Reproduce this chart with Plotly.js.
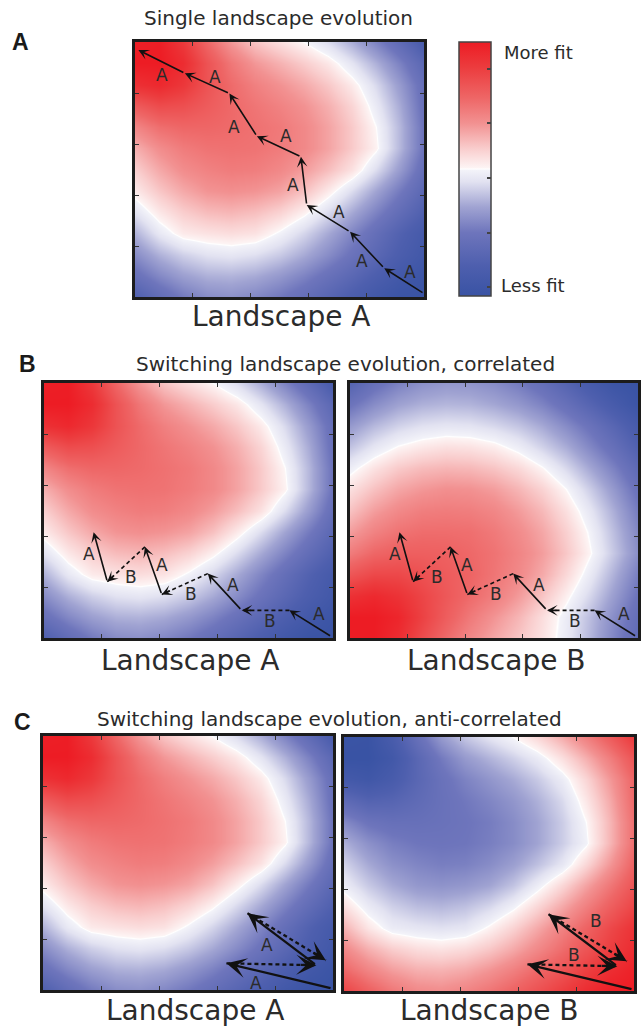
<!DOCTYPE html>
<html>
<head>
<meta charset="utf-8">
<script src="https://cdn.plot.ly/plotly-3.0.1.min.js"></script>
<style>
  html, body { margin: 0; padding: 0; background: #ffffff; }
  #fig { width: 642px; height: 1028px; }
</style>
</head>
<body>
<div id="fig"></div>
<script>
// Grid nodes of the fitness landscapes (row 0 = top edge)
const gridX = [0, 1, 2, 3, 4, 5, 6, 7, 8, 9, 10, 11, 12];
const gridY = [0, 1, 2, 3, 4, 5, 6, 7, 8, 9, 10, 11, 12];

// Fitness values, -1 = least fit, +1 = most fit
const landscapeA = [
  [ 0.98,  0.99,  0.82,  0.56,  0.34,  0.19,  0.09,  0.00, -0.12, -0.27, -0.44, -0.62, -0.82],
  [ 1.00,  1.00,  0.90,  0.67,  0.48,  0.34,  0.25,  0.16,  0.06, -0.09, -0.26, -0.45, -0.66],
  [ 0.87,  0.92,  0.83,  0.67,  0.54,  0.44,  0.36,  0.28,  0.18,  0.05, -0.13, -0.34, -0.57],
  [ 0.62,  0.71,  0.69,  0.62,  0.55,  0.49,  0.43,  0.36,  0.26,  0.13, -0.06, -0.28, -0.55],
  [ 0.41,  0.52,  0.56,  0.56,  0.54,  0.51,  0.47,  0.40,  0.30,  0.17,  0.00, -0.24, -0.52],
  [ 0.26,  0.38,  0.46,  0.50,  0.51,  0.50,  0.46,  0.40,  0.30,  0.17,  0.02, -0.24, -0.52],
  [ 0.15,  0.28,  0.38,  0.43,  0.46,  0.45,  0.40,  0.32,  0.21,  0.08, -0.12, -0.34, -0.58],
  [ 0.05,  0.18,  0.28,  0.35,  0.37,  0.35,  0.30,  0.20,  0.05, -0.12, -0.30, -0.48, -0.66],
  [-0.09,  0.06,  0.16,  0.22,  0.24,  0.21,  0.14,  0.03, -0.12, -0.28, -0.44, -0.60, -0.75],
  [-0.25, -0.07,  0.05,  0.08,  0.10,  0.08, -0.02, -0.14, -0.28, -0.43, -0.58, -0.73, -0.86],
  [-0.40, -0.26, -0.16, -0.10, -0.08, -0.11, -0.18, -0.28, -0.40, -0.53, -0.66, -0.79, -0.90],
  [-0.55, -0.42, -0.32, -0.26, -0.25, -0.28, -0.35, -0.44, -0.55, -0.66, -0.78, -0.89, -0.97],
  [-0.75, -0.60, -0.48, -0.40, -0.38, -0.42, -0.49, -0.58, -0.68, -0.79, -0.90, -0.98, -1.00]
];

const landscapeBCorrelated = [
  [-0.70, -0.55, -0.45, -0.38, -0.35, -0.36, -0.40, -0.47, -0.57, -0.70, -0.84, -0.96, -1.00],
  [-0.52, -0.40, -0.31, -0.26, -0.24, -0.25, -0.29, -0.35, -0.44, -0.56, -0.70, -0.84, -0.97],
  [-0.34, -0.23, -0.15, -0.10, -0.08, -0.09, -0.13, -0.19, -0.28, -0.40, -0.53, -0.68, -0.84],
  [-0.20, -0.08,  0.01,  0.06,  0.09,  0.08,  0.04, -0.04, -0.15, -0.27, -0.42, -0.57, -0.74],
  [-0.04,  0.08,  0.17,  0.22,  0.24,  0.23,  0.19,  0.12,  0.01, -0.13, -0.29, -0.45, -0.63],
  [ 0.09,  0.20,  0.29,  0.34,  0.37,  0.36,  0.32,  0.24,  0.14,  0.00, -0.17, -0.35, -0.54],
  [ 0.20,  0.32,  0.40,  0.45,  0.46,  0.45,  0.41,  0.33,  0.23,  0.09, -0.08, -0.27, -0.47],
  [ 0.32,  0.43,  0.50,  0.53,  0.53,  0.52,  0.47,  0.39,  0.29,  0.15, -0.02, -0.22, -0.42],
  [ 0.46,  0.56,  0.60,  0.60,  0.59,  0.55,  0.50,  0.42,  0.32,  0.18,  0.01, -0.19, -0.39],
  [ 0.65,  0.73,  0.73,  0.68,  0.62,  0.57,  0.49,  0.40,  0.28,  0.12, -0.06, -0.26, -0.46],
  [ 0.87,  0.92,  0.86,  0.75,  0.64,  0.54,  0.45,  0.33,  0.19,  0.03, -0.14, -0.33, -0.52],
  [ 1.00,  1.00,  0.94,  0.77,  0.61,  0.47,  0.35,  0.24,  0.10, -0.05, -0.22, -0.40, -0.58],
  [ 1.00,  1.00,  0.90,  0.71,  0.54,  0.40,  0.29,  0.19,  0.08, -0.06, -0.24, -0.43, -0.62]
];

const landscapeBAnti = [
  [-0.98, -0.99, -0.82, -0.56, -0.34, -0.19, -0.09,  0.00,  0.12,  0.27,  0.44,  0.62,  0.82],
  [-1.00, -1.00, -0.90, -0.67, -0.48, -0.34, -0.25, -0.16, -0.06,  0.09,  0.26,  0.45,  0.66],
  [-0.87, -0.92, -0.83, -0.67, -0.54, -0.44, -0.36, -0.28, -0.18, -0.05,  0.13,  0.34,  0.57],
  [-0.62, -0.71, -0.69, -0.62, -0.55, -0.49, -0.43, -0.36, -0.26, -0.13,  0.06,  0.28,  0.55],
  [-0.41, -0.52, -0.56, -0.56, -0.54, -0.51, -0.47, -0.40, -0.30, -0.17,  0.00,  0.24,  0.52],
  [-0.26, -0.38, -0.46, -0.50, -0.51, -0.50, -0.46, -0.40, -0.30, -0.17, -0.02,  0.24,  0.52],
  [-0.15, -0.28, -0.38, -0.43, -0.46, -0.45, -0.40, -0.32, -0.21, -0.08,  0.12,  0.34,  0.58],
  [-0.05, -0.18, -0.28, -0.35, -0.37, -0.35, -0.30, -0.20, -0.05,  0.12,  0.30,  0.48,  0.66],
  [ 0.09, -0.06, -0.16, -0.22, -0.24, -0.21, -0.14, -0.03,  0.12,  0.28,  0.44,  0.60,  0.75],
  [ 0.25,  0.07, -0.05, -0.08, -0.10, -0.08,  0.02,  0.14,  0.28,  0.43,  0.58,  0.73,  0.86],
  [ 0.40,  0.26,  0.16,  0.10,  0.08,  0.11,  0.18,  0.28,  0.40,  0.53,  0.66,  0.79,  0.90],
  [ 0.55,  0.42,  0.32,  0.26,  0.25,  0.28,  0.35,  0.44,  0.55,  0.66,  0.78,  0.89,  0.97],
  [ 0.75,  0.60,  0.48,  0.40,  0.38,  0.42,  0.49,  0.58,  0.68,  0.79,  0.90,  0.98,  1.00]
];

// Evolutionary trajectories (grid units, y grows downward)
const singlePathX = [12.00, 10.35, 8.93, 7.13, 6.89, 5.06, 3.92, 2.07, 0.14];
const singlePathY = [11.84, 10.65, 8.93, 7.67, 5.40, 4.43, 2.42, 1.47, 0.38];
const singleSteps = ['A', 'A', 'A', 'A', 'A', 'A', 'A', 'A'];
const singleLabelX = [11.43, 9.41, 8.48, 6.57, 6.26, 4.13, 3.33, 1.14];
const singleLabelY = [10.82, 10.29, 7.98, 6.75, 4.43, 3.99, 1.64, 1.55];
const singleLabelText = ['A', 'A', 'A', 'A', 'A', 'A', 'A', 'A'];

const corrPathX = [11.94, 10.19, 8.21, 6.80, 4.89, 4.19, 2.63, 2.06];
const corrPathY = [11.94, 10.70, 10.70, 8.97, 9.95, 7.71, 9.35, 7.02];
const corrSteps = ['A', 'B', 'A', 'B', 'A', 'B', 'A'];
const corrLabelX = [11.40, 9.38, 7.86, 6.09, 4.89, 3.63, 1.86];
const corrLabelY = [10.85, 11.19, 9.51, 9.92, 8.57, 9.11, 8.06];
const corrLabelText = ['A', 'B', 'A', 'B', 'A', 'B', 'A'];

const antiPathX = [11.96, 7.59, 11.31, 8.46, 11.70];
const antiPathY = [11.93, 10.74, 10.83, 8.37, 10.59];
const antiSteps = ['A', 'B', 'A', 'B'];
const antiLabelAX = [8.81, 9.27];
const antiLabelAY = [11.66, 9.87];
const antiLabelAText = ['A', 'A'];
const antiLabelBX = [9.50, 10.41];
const antiLabelBY = [10.31, 8.69];
const antiLabelBText = ['B', 'B'];

// Red-white-blue fitness colormap
const fitnessScale = [
  [0.000, 'rgb(57,83,164)'],
  [0.120, 'rgb(78,95,174)'],
  [0.250, 'rgb(110,117,188)'],
  [0.350, 'rgb(160,163,210)'],
  [0.450, 'rgb(226,226,241)'],
  [0.495, 'rgb(243,243,249)'],
  [0.500, 'rgb(255,255,255)'],
  [0.505, 'rgb(253,244,244)'],
  [0.580, 'rgb(249,205,205)'],
  [0.680, 'rgb(242,145,145)'],
  [0.780, 'rgb(238,102,102)'],
  [0.900, 'rgb(236,60,62)'],
  [1.000, 'rgb(237,28,36)']
];
const colorbarTicks = [-0.93, -0.50, -0.07, 0.36, 0.79];

const W = 642, H = 1028;
const px = v => v / W;
const py = v => 1 - v / H;

// Panel boxes in pixels: left, right, top, bottom
const panels = [
  { id: '',  box: [135, 424, 42, 297],  z: landscapeA },
  { id: '2', box: [44, 333, 383, 638],  z: landscapeA },
  { id: '3', box: [350, 638, 383, 638], z: landscapeBCorrelated },
  { id: '4', box: [43, 333, 736, 990],  z: landscapeA },
  { id: '5', box: [344, 634, 737, 991], z: landscapeBAnti }
];

const data = [];
const layout = {
  width: W, height: H,
  margin: { l: 0, r: 0, t: 0, b: 0 },
  paper_bgcolor: '#ffffff',
  plot_bgcolor: '#ffffff',
  showlegend: false,
  annotations: [],
  font: { family: 'DejaVu Sans, sans-serif', color: '#2b2b2b' }
};

panels.forEach((p, i) => {
  const [l, r, t, b] = p.box;
  const axStyle = {
    range: [0, 12],
    showgrid: false, zeroline: false,
    showline: true, linecolor: '#1c1c1c', linewidth: 2.8, mirror: 'ticks',
    ticks: 'inside', ticklen: 4, tickwidth: 1, tickcolor: '#333333',
    tickmode: 'array', tickvals: [2.4, 4.8, 7.2, 9.6],
    showticklabels: false, fixedrange: true
  };
  layout['xaxis' + p.id] = Object.assign({}, axStyle, {
    domain: [px(l), px(r)], anchor: 'y' + p.id
  });
  layout['yaxis' + p.id] = Object.assign({}, axStyle, {
    domain: [py(b), py(t)], anchor: 'x' + p.id, range: [12, 0]
  });
  const trace = {
    type: 'heatmap', x: gridX, y: gridY, z: p.z,
    xaxis: 'x' + p.id, yaxis: 'y' + p.id,
    colorscale: fitnessScale, zmin: -1, zmax: 1,
    zsmooth: 'best', hoverinfo: 'skip',
    showscale: i === 0
  };
  if (i === 0) {
    trace.colorbar = {
      x: px(459), xanchor: 'left', y: py(42), yanchor: 'top',
      len: 254, lenmode: 'pixels', thickness: 32, thicknessmode: 'pixels',
      xpad: 0, ypad: 0,
      outlinewidth: 1.5, outlinecolor: '#444444',
      ticks: 'inside', ticklen: 4, tickwidth: 2, tickcolor: '#444444',
      tickmode: 'array', tickvals: colorbarTicks, showticklabels: false
    };
  }
  data.push(trace);
});

// Draw a trajectory: solid arrows for A-steps, dashed arrows for B-steps
function drawPath(id, xs, ys, steps, head) {
  const dashX = [], dashY = [];
  steps.forEach((s, k) => {
    const x0 = xs[k], y0 = ys[k], x1 = xs[k + 1], y1 = ys[k + 1];
    const base = {
      xref: 'x' + id, yref: 'y' + id, axref: 'x' + id, ayref: 'y' + id,
      x: x1, y: y1, text: '', showarrow: true,
      arrowhead: 3, arrowsize: head.size, arrowwidth: head.width,
      arrowcolor: '#111111', standoff: 0, startstandoff: 0
    };
    if (s === 'A') {
      layout.annotations.push(Object.assign(base, { ax: x0, ay: y0 }));
    } else {
      dashX.push(x0, x1, null);
      dashY.push(y0, y1, null);
      const len = Math.hypot(x1 - x0, y1 - y0);
      const back = head.back / len;
      layout.annotations.push(Object.assign(base, {
        ax: x1 - (x1 - x0) * back, ay: y1 - (y1 - y0) * back
      }));
    }
  });
  if (dashX.length) {
    data.push({
      type: 'scatter', mode: 'lines', x: dashX, y: dashY,
      xaxis: 'x' + id, yaxis: 'y' + id, hoverinfo: 'skip',
      line: { color: '#111111', width: head.width, dash: '4px,3px' }
    });
  }
}

function drawLabels(id, xs, ys, texts) {
  texts.forEach((t, k) => {
    layout.annotations.push({
      xref: 'x' + id, yref: 'y' + id, x: xs[k], y: ys[k],
      text: t, showarrow: false,
      font: { family: 'DejaVu Sans, sans-serif', size: 17, color: '#2b2b2b' }
    });
  });
}

const smallHead = { size: 1.1, width: 1.6, back: 0.45 };
const bigHead = { size: 1.45, width: 2.3, back: 0.7 };

drawPath('', singlePathX, singlePathY, singleSteps, smallHead);
drawLabels('', singleLabelX, singleLabelY, singleLabelText);

drawPath('2', corrPathX, corrPathY, corrSteps, smallHead);
drawLabels('2', corrLabelX, corrLabelY, corrLabelText);
drawPath('3', corrPathX, corrPathY, corrSteps, smallHead);
drawLabels('3', corrLabelX, corrLabelY, corrLabelText);

drawPath('4', antiPathX, antiPathY, antiSteps, bigHead);
drawLabels('4', antiLabelAX, antiLabelAY, antiLabelAText);
drawPath('5', antiPathX, antiPathY, antiSteps, bigHead);
drawLabels('5', antiLabelBX, antiLabelBY, antiLabelBText);

// Figure texts placed in paper coordinates
function paperText(text, x, y, size, opts) {
  layout.annotations.push(Object.assign({
    xref: 'paper', yref: 'paper', x: px(x), y: py(y),
    xanchor: 'center', yanchor: 'middle', showarrow: false, text: text,
    font: { family: 'DejaVu Sans, sans-serif', size: size, color: '#2b2b2b' }
  }, opts || {}));
}

const boldFont = { family: 'Liberation Sans, Arial, sans-serif', size: 23, color: '#1a1a1a', weight: 'bold' };
paperText('<b>A</b>', 21, 42, 23, { font: boldFont });
paperText('<b>B</b>', 27, 364, 23, { font: boldFont });
paperText('<b>C</b>', 23, 722, 23, { font: boldFont });

paperText('Single landscape evolution', 278, 18, 20);
paperText('Switching landscape evolution, correlated', 346, 364, 20);
paperText('Switching landscape evolution, anti-correlated', 330, 719, 20);

paperText('Landscape A', 281, 316, 28);
paperText('Landscape A', 190, 660, 28);
paperText('Landscape B', 496, 660, 28);
paperText('Landscape A', 195, 1010, 28);
paperText('Landscape B', 489, 1010, 28);

paperText('More fit', 502, 52, 18, { xanchor: 'left' });
paperText('Less fit', 499, 285, 18, { xanchor: 'left' });

Plotly.newPlot('fig', data, layout, { staticPlot: true, displayModeBar: false });
</script>
</body>
</html>
